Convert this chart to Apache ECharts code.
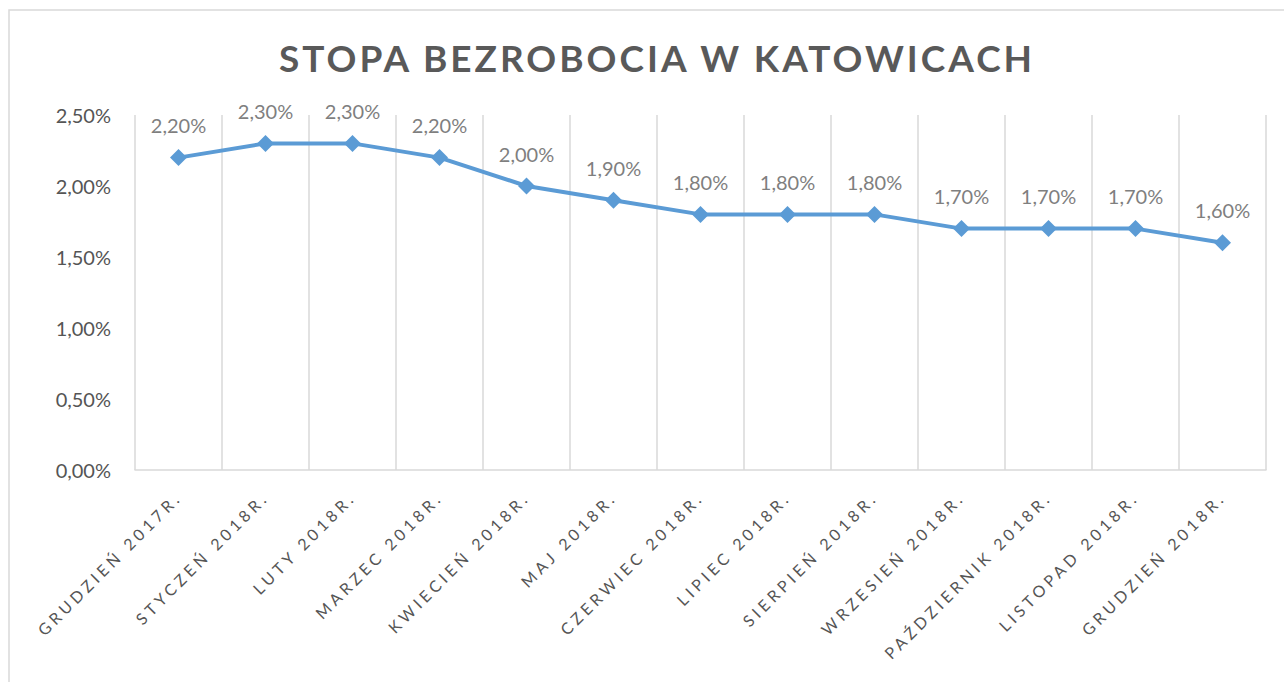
<!DOCTYPE html>
<html>
<head>
<meta charset="utf-8">
<script src="https://cdn.jsdelivr.net/npm/echarts@6/dist/echarts.min.js"></script>
<style>
  html, body { margin: 0; padding: 0; background: #fff; }
  #chart { width: 1284px; height: 682px; }
  /* wide tracking for title and month labels, like the original */
  #chart svg text[style*="xsp"] { letter-spacing: 4px; }
  #chart svg text[style*="tsp"] { letter-spacing: 3px; }
</style>
</head>
<body>
<div id="chart"></div>
<script>
var months = [
  "GRUDZIEŃ 2017R.", "STYCZEŃ 2018R.", "LUTY 2018R.", "MARZEC 2018R.",
  "KWIECIEŃ 2018R.", "MAJ 2018R.", "CZERWIEC 2018R.", "LIPIEC 2018R.",
  "SIERPIEŃ 2018R.", "WRZESIEŃ 2018R.", "PAŹDZIERNIK 2018R.",
  "LISTOPAD 2018R.", "GRUDZIEŃ 2018R."
];
var rates = [2.2, 2.3, 2.3, 2.2, 2.0, 1.9, 1.8, 1.8, 1.8, 1.7, 1.7, 1.7, 1.6];

function pct(v) {
  return v.toFixed(2).replace(".", ",") + "%";
}

var chart = echarts.init(document.getElementById("chart"), null, { renderer: "svg" });

var option = {
  backgroundColor: "#ffffff",
  animation: false,
  title: {
    text: "STOPA BEZROBOCIA W KATOWICACH",
    left: 652,
    textAlign: "center",
    top: 34,
    textStyle: {
      fontFamily: "Lato, tsp",
      fontWeight: "bold",
      fontSize: 37,
      color: "#595959"
    }
  },
  graphic: [
    {
      type: "rect",
      shape: { x: 9, y: 10, width: 1300, height: 700 },
      style: { fill: "none", stroke: "#d9d9d9", lineWidth: 1.5 },
      silent: true
    }
  ],
  grid: {
    left: 135,
    right: 18,
    top: 115,
    bottom: 212
  },
  xAxis: {
    type: "category",
    data: months,
    boundaryGap: true,
    axisLine: { lineStyle: { color: "#d9d9d9", width: 1.5 } },
    axisTick: { show: false },
    splitLine: { show: true, lineStyle: { color: "#d9d9d9", width: 1.5 } },
    axisLabel: {
      interval: 0,
      rotate: 45,
      margin: 24,
      fontFamily: "Lato, xsp",
      fontSize: 16,
      color: "#555555"
    }
  },
  yAxis: {
    type: "value",
    min: 0,
    max: 2.5,
    interval: 0.5,
    axisLine: { show: false },
    axisTick: { show: false },
    splitLine: { show: false },
    axisLabel: {
      margin: 24,
      fontFamily: "Lato",
      fontSize: 20,
      color: "#555555",
      formatter: pct
    }
  },
  series: [
    {
      name: "Stopa bezrobocia",
      type: "line",
      data: rates,
      symbol: "diamond",
      symbolSize: 17,
      lineStyle: { color: "#5b9bd5", width: 4 },
      itemStyle: { color: "#5b9bd5" },
      label: {
        show: true,
        position: "top",
        distance: 14,
        fontFamily: "Lato",
        fontSize: 20,
        color: "#7f7f7f",
        formatter: function (p) { return pct(p.value); }
      }
    }
  ]
};

chart.setOption(option);
</script>
</body>
</html>
